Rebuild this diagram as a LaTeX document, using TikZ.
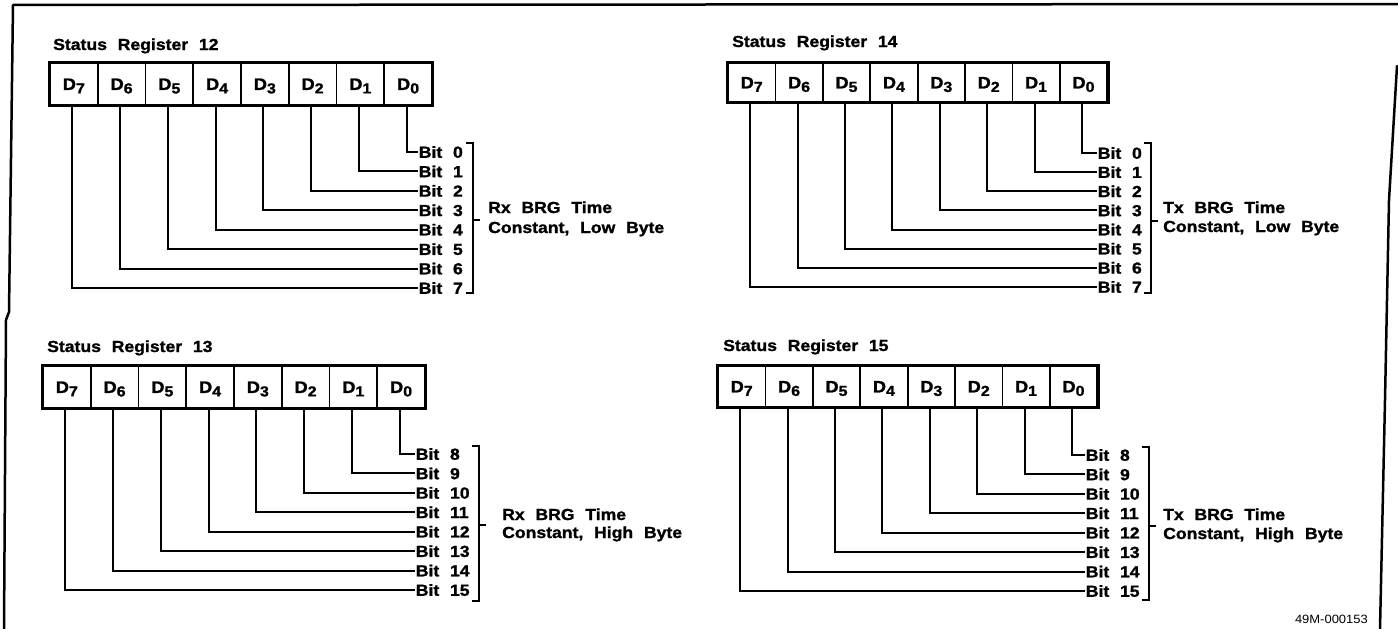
\documentclass[tikz,border=0pt]{standalone}
\usepackage{fontspec}
\newfontfamily\lab{Liberation Sans}[FakeStretch=1.1,WordSpace=2.2,BoldFeatures={FakeBold=1.3}]
\newfontfamily\labr{Liberation Sans}[FakeStretch=1.08]
\tikzset{
  regbox/.style={line width=3pt},
  cell/.style={draw, line width=1.8pt, inner sep=0pt, font=\lab\bfseries\fontsize{16.5}{16.5}\selectfont, text height=11.8pt, text depth=0pt},
  conn/.style={line width=2pt},
  bitlab/.style={anchor=west, inner sep=0.6pt, font=\lab\bfseries\fontsize{16}{16}\selectfont, text height=11.5pt, text depth=0pt},
  brk/.style={line width=2pt},
  desc/.style={anchor=base west, inner sep=0pt, font=\lab\bfseries\fontsize{16}{16}\selectfont},
  ttl/.style={anchor=base west, inner sep=0pt, font=\lab\bfseries\fontsize{16}{16}\selectfont},
  frm/.style={line width=2.5pt, line cap=round, line join=round},
  code/.style={anchor=base east, inner sep=0pt, font=\labr\fontsize{12}{12}\selectfont},
}
\begin{document}
\begin{tikzpicture}[x=1pt,y=-1pt]
\useasboundingbox (0,0) rectangle (1398,629);
% frame
\draw[frm] (4,629) -- (6,320) -- (9,312) -- (13,5) -- (1398,4);
\draw[frm] (1397,66) -- (1389,200) -- (1385,400) -- (1380,629);
% registers
\foreach \p/\bx/\bt/\bb/\cw/\ry/\rdy/\tx/\brx/\brt/\brb/\ty/\dx/\dya/\dyb/\ttx/\tty/\n/\off/\da/\db in {
  tl/50/63/105/47.75/152/19.43/418/473/143/293/220/488/213/233/53/50/12/0/{Rx BRG Time}/{Constant, Low Byte},
  tr/728/63/102/47.4/153/19.14/1097/1151/143/293/221/1163/213/232/732/47/14/0/{Tx BRG Time}/{Constant, Low Byte},
  bl/43/366/408/47.75/454/19.43/415/479/446/601/525/502/520/538/47/352/13/8/{Rx BRG Time}/{Constant, High Byte},
  br/718/366/407/47.4/455/19.43/1085/1149/447/600/526/1163/520/539/723/351/15/8/{Tx BRG Time}/{Constant, High Byte}%
}{
  \node[ttl] (\p t) at (\ttx,\tty) {Status Register \n};
  \pgfmathsetmacro\cy{(\bt+\bb)/2}
  \pgfmathsetmacro\ch{\bb-\bt}
  \foreach \i in {0,...,7}{
    \pgfmathsetmacro\cx{\bx+\cw*(7-\i)+\cw/2}
    \node[cell, minimum width=\cw pt, minimum height=\ch pt] (\p c\i) at (\cx,\cy)
      {D\raisebox{-3.5pt}{\fontsize{14.5}{14.5}\selectfont\i}};
  }
  \draw[regbox] (\p c7.north west) rectangle (\p c0.south east);
  \foreach \i in {0,...,7}{
    \pgfmathtruncatemacro\bn{\i+\off}
    \node[bitlab] (\p b\i) at (\tx,{\ry+\rdy*\i}) {Bit \bn};
    \draw[conn] ([xshift=-1.5pt]\p c\i.south) |- (\p b\i.west);
  }
  \coordinate (\p kt) at (\brx,\brt);
  \coordinate (\p kb) at (\brx,\brb);
  \coordinate (\p km) at (\brx,\ty);
  \draw[brk] ([xshift=-7pt]\p kt) -- (\p kt) -- (\p kb) -- ([xshift=-7pt]\p kb);
  \draw[brk] (\p km) -- ([xshift=7pt]\p km);
  \node[desc] (\p d1) at (\dx,\dya) {\da};
  \node[desc] (\p d2) at (\dx,\dyb) {\db};
}
\node[code] (figcode) at (1368,623) {49M-000153};
\end{tikzpicture}
\end{document}
